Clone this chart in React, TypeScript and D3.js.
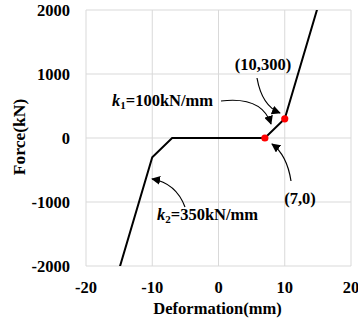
import React, { useEffect, useRef } from 'react';
import * as d3 from 'd3';

// hysteresis backbone: deformation (mm) vs force (kN)
const deformation = [-15, -10, -7, 7, 10, 15];
const force = [-2050, -300, 0, 0, 300, 2050];
// red marked points
const markDef = [7, 10];
const markForce = [0, 300];
const xTicks = [-20, -10, 0, 10, 20];
const yTicks = [-2000, -1000, 0, 1000, 2000];

const FONT = '"Liberation Serif", "Times New Roman", serif';

export default function App() {
  const ref = useRef<SVGSVGElement>(null);

  useEffect(() => {
    const svg = d3.select(ref.current);
    svg.selectAll('*').remove();

    const left = 86, right = 351, top = 10, bottom = 266;
    const x = d3.scaleLinear().domain([-20, 20]).range([left, right]);
    const y = d3.scaleLinear().domain([-2000, 2000]).range([bottom, top]);

    const defs = svg.append('defs');
    defs.append('clipPath').attr('id', 'plotclip')
      .append('rect').attr('x', left).attr('y', top)
      .attr('width', right - left).attr('height', bottom - top);
    defs.append('marker')
      .attr('id', 'arrow')
      .attr('viewBox', '0 0 10 10')
      .attr('refX', 9).attr('refY', 5)
      .attr('markerWidth', 9).attr('markerHeight', 9)
      .attr('markerUnits', 'userSpaceOnUse')
      .attr('orient', 'auto')
      .append('path').attr('d', 'M0,0 L10,5 L0,10 z').attr('fill', '#000');

    // grid
    svg.append('g').selectAll('line.vx').data(xTicks).enter().append('line')
      .attr('x1', d => x(d)).attr('x2', d => x(d))
      .attr('y1', top).attr('y2', bottom)
      .attr('stroke', '#d9d9d9').attr('stroke-width', 1);
    svg.append('g').selectAll('line.hy').data(yTicks).enter().append('line')
      .attr('y1', d => y(d)).attr('y2', d => y(d))
      .attr('x1', left).attr('x2', right)
      .attr('stroke', '#d9d9d9').attr('stroke-width', 1);

    // tick labels
    svg.append('g').selectAll('text').data(yTicks).enter().append('text')
      .attr('x', 70).attr('y', d => y(d) + 6)
      .attr('text-anchor', 'end')
      .style('font', `bold 16.5px ${FONT}`)
      .text(d => d);
    svg.append('g').selectAll('text').data(xTicks).enter().append('text')
      .attr('x', d => x(d)).attr('y', 293)
      .attr('text-anchor', 'middle')
      .style('font', `bold 16.5px ${FONT}`)
      .text(d => d);

    // axis titles
    svg.append('text')
      .attr('x', 217.5).attr('y', 314)
      .attr('text-anchor', 'middle')
      .style('font', `bold 16.5px ${FONT}`)
      .text('Deformation(mm)');
    svg.append('text')
      .attr('transform', 'translate(25,137) rotate(-90)')
      .attr('text-anchor', 'middle')
      .style('font', `bold 17.5px ${FONT}`)
      .text('Force(kN)');

    // curve
    const pts: [number, number][] = deformation.map((d, i) => [d, force[i]]);
    const line = d3.line<[number, number]>().x(d => x(d[0])).y(d => y(d[1]));
    svg.append('path')
      .datum(pts)
      .attr('clip-path', 'url(#plotclip)')
      .attr('d', line)
      .attr('fill', 'none')
      .attr('stroke', '#000')
      .attr('stroke-width', 2);

    svg.append('g').selectAll('circle').data(markDef).enter().append('circle')
      .attr('cx', d => x(d)).attr('cy', (d, i) => y(markForce[i]))
      .attr('r', 3.6).attr('fill', '#ff0000');

    // annotations
    const arrows = [
      'M221,101 Q262,96 271,124',
      'M257,78 Q262,106 280,113',
      'M291,181 Q287,155 272,144',
      'M185,207 Q176,183 152,179',
    ];
    svg.append('g').selectAll('path').data(arrows).enter().append('path')
      .attr('d', d => d)
      .attr('fill', 'none')
      .attr('stroke', '#000')
      .attr('stroke-width', 1.2)
      .attr('marker-end', 'url(#arrow)');

    svg.append('text').attr('x', 263).attr('y', 70)
      .attr('text-anchor', 'middle')
      .style('font', `bold 16.5px ${FONT}`)
      .text('(10,300)');
    svg.append('text').attr('x', 300).attr('y', 204)
      .attr('text-anchor', 'middle')
      .style('font', `bold 16.5px ${FONT}`)
      .text('(7,0)');

    const kLabel = (xx: number, yy: number, sub: string, rest: string) => {
      const t = svg.append('text').attr('x', xx).attr('y', yy)
        .style('font', `bold 16.5px ${FONT}`);
      t.append('tspan').style('font-style', 'italic').text('k');
      t.append('tspan').attr('dy', 3).style('font-size', '11px').text(sub);
      t.append('tspan').attr('dy', -3).text(rest);
    };
    kLabel(112, 106, '1', '=100kN/mm');
    kLabel(157, 220, '2', '=350kN/mm');
  }, []);

  return (
    <svg
      ref={ref}
      width={358}
      height={325}
      style={{ position: 'absolute', left: 0, top: 0, background: '#fff' }}
    />
  );
}
